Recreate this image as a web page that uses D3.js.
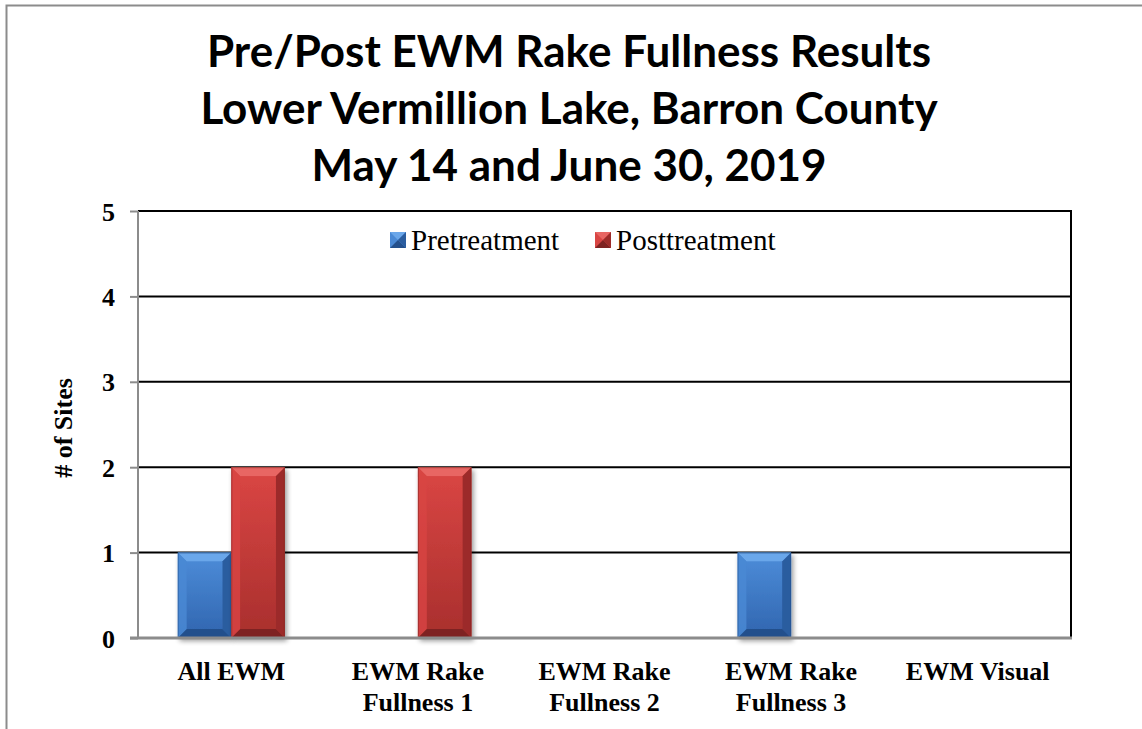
<!DOCTYPE html>
<html><head><meta charset="utf-8">
<script src="https://cdn.jsdelivr.net/npm/d3@7"></script>
<style>body{margin:0;background:#fff;} svg{display:block;}</style>
</head><body>
<svg id="c" width="1142" height="729"></svg>
<script>
const categories = [["All EWM"], ["EWM Rake", "Fullness 1"], ["EWM Rake", "Fullness 2"], ["EWM Rake", "Fullness 3"], ["EWM Visual"]];
const seriesNames = ["Pretreatment", "Posttreatment"];
const pretreatment = [1, 0, 0, 1, 0];
const posttreatment = [2, 2, 0, 0, 0];
const yTicks = [0, 1, 2, 3, 4, 5];
const titleLines = ["Pre/Post EWM Rake Fullness Results", "Lower Vermillion Lake, Barron County", "May 14 and June 30, 2019"];

const svg = d3.select("#c");
const m = {left: 138, right: 1071, top: 211, bottom: 638};
const serif = "'Liberation Serif', 'Times New Roman', serif";

// outer border
svg.append("path").attr("d", `M6.5,729 L6.5,5.5 L1142,5.5`).attr("fill","none").attr("stroke","#8c8c8c").attr("stroke-width",2);

const defs = svg.append("defs");
const pal = [
  {face0:"#4a89d5", face1:"#3369b3", top:"#6ba7ea", right:"#2b5d9f", bot:"#24508c"},
  {face0:"#d84543", face1:"#ab302e", top:"#e86663", right:"#9c2c2a", bot:"#7e2322"}
];
pal.forEach((p,i)=>{
  const g = defs.append("linearGradient").attr("id","g"+i).attr("x1",0).attr("y1",0).attr("x2",0).attr("y2",1);
  g.append("stop").attr("offset","0%").attr("stop-color",p.face0);
  g.append("stop").attr("offset","100%").attr("stop-color",p.face1);
});
const f = defs.append("filter").attr("id","sh").attr("x","-20%").attr("y","-20%").attr("width","140%").attr("height","140%");
f.append("feGaussianBlur").attr("in","SourceAlpha").attr("stdDeviation",2.5);
f.append("feOffset").attr("dx",2).attr("dy",3).attr("result","b");
f.append("feComponentTransfer").append("feFuncA").attr("type","linear").attr("slope",0.4);
const fm = f.append("feMerge"); fm.append("feMergeNode"); fm.append("feMergeNode").attr("in","SourceGraphic");

const y = d3.scaleLinear().domain([0,5]).range([m.bottom, m.top]);
const x0 = d3.scaleBand().domain(d3.range(categories.length)).range([m.left, m.right]).padding(0);
const x1 = d3.scaleBand().domain([0,1]).range([0, 107]);

// gridlines
svg.append("g").selectAll("line").data(yTicks.filter(d=>d>0)).join("line")
  .attr("x1", m.left).attr("x2", m.right).attr("y1", d=>y(d)).attr("y2", d=>y(d))
  .attr("stroke","#000").attr("stroke-width",2);
svg.append("line").attr("x1",m.right).attr("x2",m.right).attr("y1",m.top-1).attr("y2",m.bottom).attr("stroke","#000").attr("stroke-width",2);

// bars
const data = [];
categories.forEach((c,i)=>{ [pretreatment[i], posttreatment[i]].forEach((v,s)=>{ if(v>0) data.push({i,s,v}); }); });
const bars = svg.append("g").selectAll("g").data(data).join("g").attr("filter","url(#sh)");
bars.each(function(d){
  const g = d3.select(this);
  const p = pal[d.s];
  const cx = x0(d.i) + x0.bandwidth()/2 - 53.5;
  const xl = cx + x1(d.s), xr = xl + x1.bandwidth();
  const yt = y(d.v), yb = y(0);
  const b = 9;
  g.append("rect").attr("x",xl).attr("y",yt).attr("width",xr-xl).attr("height",yb-yt).attr("fill","url(#g"+d.s+")");
  g.append("path").attr("d",`M${xl},${yt}L${xr},${yt}L${xr-b},${yt+b}L${xl+b},${yt+b}Z`).attr("fill",p.top);
  g.append("path").attr("d",`M${xl},${yt}L${xl+b},${yt+b}L${xl+b},${yb-b}L${xl},${yb}Z`).attr("fill",p.face0).attr("opacity",0.8);
  g.append("path").attr("d",`M${xr},${yt}L${xr-b},${yt+b}L${xr-b},${yb-b}L${xr},${yb}Z`).attr("fill",p.right);
  g.append("path").attr("d",`M${xl},${yb}L${xl+b},${yb-b}L${xr-b},${yb-b}L${xr},${yb}Z`).attr("fill",p.bot);
  g.append("rect").attr("x",xl+b).attr("y",yt+b).attr("width",xr-xl-2*b).attr("height",Math.max(0,yb-yt-2*b)).attr("fill","url(#g"+d.s+")");
  g.append("rect").attr("x",xl+0.5).attr("y",yt+0.5).attr("width",xr-xl-1).attr("height",yb-yt-1).attr("fill","none").attr("stroke",p.bot).attr("stroke-opacity",0.5);
});

// y axis
const yAxis = svg.append("g").attr("transform",`translate(${m.left},0)`)
  .call(d3.axisLeft(y).tickValues(yTicks).tickSize(8).tickPadding(15).tickFormat(d3.format("d")));
yAxis.select(".domain").attr("stroke","#8c8c8c").attr("stroke-width",2).attr("d",`M0,${m.top}V${m.bottom}`);
yAxis.selectAll(".tick line").attr("stroke","#8c8c8c").attr("stroke-width",2);
yAxis.selectAll(".tick text").attr("font-family",serif).attr("font-weight","bold").attr("font-size",26).attr("fill","#000").attr("dy","0.35em");

// x axis baseline
svg.append("line").attr("x1",m.left-8).attr("x2",m.right+1).attr("y1",m.bottom).attr("y2",m.bottom).attr("stroke","#8c8c8c").attr("stroke-width",3);

// x labels
const xl = svg.append("g").selectAll("text").data(categories).join("text")
  .attr("x",(d,i)=>x0(i)+x0.bandwidth()/2).attr("y",680)
  .attr("text-anchor","middle").attr("font-family",serif)
  .attr("font-weight","bold").attr("font-size",26).attr("fill","#000");
xl.each(function(d){ const t=d3.select(this); d.forEach((l,k)=>t.append("tspan").attr("x",t.attr("x")).attr("dy",k?31:0).text(l)); });

// y title
svg.append("text").attr("transform","translate(72,428) rotate(-90)").attr("text-anchor","middle")
  .attr("font-family",serif).attr("font-weight","bold").attr("font-size",26).text("# of Sites");

// title
svg.append("g").selectAll("text").data(titleLines).join("text")
  .attr("x",569).attr("y",(d,i)=>67+i*57).attr("text-anchor","middle")
  .attr("font-family","Lato, 'Open Sans', sans-serif").attr("font-weight","bold").attr("font-size",44).attr("fill","#000").text(d=>d);

// legend
const leg = svg.append("g");
const legX = [390, 595];
seriesNames.forEach((n,i)=>{
  const p = pal[i]; const lx = legX[i], ly = 232, s = 16;
  leg.append("rect").attr("x",lx).attr("y",ly).attr("width",s).attr("height",s).attr("fill",p.face0);
  leg.append("path").attr("d",`M${lx},${ly}L${lx+s},${ly}L${lx+s/2},${ly+s/2}Z`).attr("fill",p.top);
  leg.append("path").attr("d",`M${lx},${ly+s}L${lx+s},${ly+s}L${lx+s/2},${ly+s/2}Z`).attr("fill",p.bot);
  leg.append("path").attr("d",`M${lx+s},${ly}L${lx+s},${ly+s}L${lx+s/2},${ly+s/2}Z`).attr("fill",p.right);
  leg.append("text").attr("x",lx+21).attr("y",ly+18).attr("font-family",serif).attr("font-size",29).attr("fill","#000").text(n);
});
</script>
</body></html>
